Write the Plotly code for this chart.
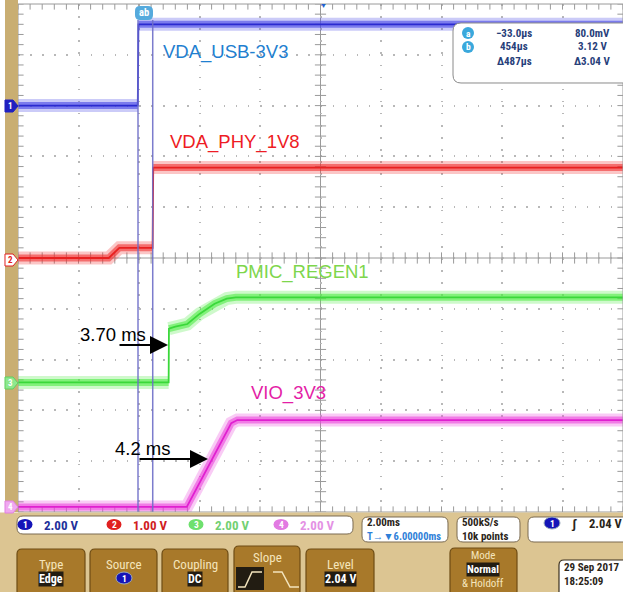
import plotly.graph_objects as go

# ---------------- data (time in ms relative to trigger, volts) ----------------
ch1_t = [-4.0, -0.04, -0.02, 16.0]
ch1_v = [0.0, 0.0, 3.2, 3.2]
ch2_t = [-4.0, -1.0, -0.65, 0.45, 0.47, 16.0]
ch2_v = [0.0, 0.0, 0.2, 0.2, 1.78, 1.78]
ch3_t = [-4.0, 0.98, 0.99, 1.2, 1.6, 2.0, 2.5, 2.9, 3.2, 16.0]
ch3_v = [0.1, 0.1, 2.22, 2.3, 2.4, 2.8, 3.2, 3.4, 3.45, 3.45]
ch4_t = [-4.0, 1.58, 3.05, 3.25, 16.0]
ch4_v = [0.0, 0.0, 3.3, 3.42, 3.42]

channel_names = ["VDA_USB-3V3", "VDA_PHY_1V8", "PMIC_REGEN1", "VIO_3V3"]
channel_scale = ["2.00 V", "1.00 V", "2.00 V", "2.00 V"]
cursor_t = [-0.033, 0.454]
readout_rows = [["a", "\u221233.0\u00b5s", "80.0mV"], ["b", "454\u00b5s", "3.12 V"], ["", "\u0394487\u00b5s", "\u03943.04 V"]]

# ---------------- geometry helpers (pixel -> paper) ----------------
W, H = 623, 592
L, T, PW, PH = 18, 4, 605, 508


def fx(px):
    return (px - L) / PW


def fy(py):
    return (T + PH - py) / PH


def rrect(x0, y0, x1, y1, r):
    p = [("M", x0 + r, y0), ("L", x1 - r, y0), ("Q", x1, y0, x1, y0 + r), ("L", x1, y1 - r),
         ("Q", x1, y1, x1 - r, y1), ("L", x0 + r, y1), ("Q", x0, y1, x0, y1 - r), ("L", x0, y0 + r),
         ("Q", x0, y0, x0 + r, y0)]
    s = ""
    for seg in p:
        s += seg[0]
        coords = seg[1:]
        for i in range(0, len(coords), 2):
            s += f"{fx(coords[i]):.5f},{fy(coords[i+1]):.5f} "
    return s + "Z"


COND = "Liberation Sans Narrow, Roboto Condensed, Liberation Sans, Arial, sans-serif"
ARIAL = "Liberation Sans, Arial, sans-serif"

fig = go.Figure()

# graticule ticks on centre axes and edges
tick_x = [-4 + 0.4 * k for k in range(51)]
tick_y = [-5 + 0.2 * k for k in range(51)]
tk = dict(size=8, line=dict(width=1, color="#9a9a9a"))
for yy in (0, 5, -5):
    fig.add_trace(go.Scatter(x=tick_x, y=[yy] * len(tick_x), mode="markers",
                             marker=dict(symbol="line-ns", **tk), hoverinfo="skip"))
for xx in (6, -4, 16):
    fig.add_trace(go.Scatter(x=[xx] * len(tick_y), y=tick_y, mode="markers",
                             marker=dict(symbol="line-ew", **tk), hoverinfo="skip"))


def add_signal(t, v, rgb, core, yaxis):
    bt, bv = [], []
    for i in range(len(t)):
        if i > 0 and abs(t[i] - t[i - 1]) < 0.03 and abs(v[i] - v[i - 1]) > 0.3:
            bt.append(None)
            bv.append(None)
        bt.append(t[i])
        bv.append(v[i])
    fig.add_trace(go.Scatter(x=bt, y=bv, mode="lines", yaxis=yaxis, hoverinfo="skip",
                             line=dict(color=f"rgba({rgb},0.28)", width=13)))
    fig.add_trace(go.Scatter(x=bt, y=bv, mode="lines", yaxis=yaxis, hoverinfo="skip",
                             line=dict(color=f"rgba({rgb},0.6)", width=7)))
    fig.add_trace(go.Scatter(x=t, y=v, mode="lines", yaxis=yaxis, hoverinfo="skip",
                             line=dict(color=core, width=1.8)))


add_signal(ch1_t, ch1_v, "70,70,230", "#2a2ad0", "y2")
add_signal(ch2_t, ch2_v, "240,50,50", "#e82020", "y")
add_signal(ch3_t, ch3_v, "80,235,70", "#3ad83a", "y3")
add_signal(ch4_t, ch4_v, "235,70,220", "#e020d0", "y4")

shapes = []
# centre axes
shapes.append(dict(type="line", xref="x", yref="y", x0=-4, x1=16, y0=0, y1=0,
                   line=dict(color="#9a9a9a", width=1), layer="below"))
shapes.append(dict(type="line", xref="x", yref="y", x0=6, x1=6, y0=-5, y1=5,
                   line=dict(color="#9a9a9a", width=1), layer="below"))
# cursors
for ct in cursor_t:
    shapes.append(dict(type="line", xref="x", yref="paper", x0=ct, x1=ct, y0=0, y1=fy(20),
                       line=dict(color="rgba(110,110,200,0.9)", width=1.5)))
# plot border
shapes.append(dict(type="rect", xref="paper", yref="paper", x0=0, x1=1, y0=0, y1=1,
                   line=dict(color="#9a9a9a", width=1)))
# readout box
shapes.append(dict(type="path", xref="paper", yref="paper", path=rrect(453, 23, 632, 83, 8),
                   fillcolor="white", line=dict(color="#8a8a8a", width=1)))
# cursor label box at top
shapes.append(dict(type="path", xref="paper", yref="paper", path=rrect(135, 6, 153, 20, 5),
                   fillcolor="#55aadd", line=dict(width=0)))
# left tan bar and bottom panel
shapes.append(dict(type="rect", xref="paper", yref="paper", x0=fx(5), x1=fx(18), y0=fy(512), y1=fy(0),
                   fillcolor="#c9ae72", line=dict(width=0)))
shapes.append(dict(type="rect", xref="paper", yref="paper", x0=fx(0), x1=fx(623), y0=fy(592), y1=fy(512.5),
                   fillcolor="#dcc592", line=dict(width=0)))
# info boxes
for (a, b, c, d) in [(17, 516, 353, 534), (362, 517, 448, 542), (457, 517, 520, 542), (528, 517, 632, 542)]:
    shapes.append(dict(type="path", xref="paper", yref="paper", path=rrect(a, b, c, d, 6),
                       fillcolor="white", line=dict(color="#7a6a50", width=1)))
# buttons
for (a, b, c, d) in [(17, 549, 85, 596), (90, 549, 157, 596), (162, 549, 228, 596), (234, 546, 300, 596),
                     (306, 549, 374, 596), (450, 548, 517, 596)]:
    shapes.append(dict(type="path", xref="paper", yref="paper", path=rrect(a, b, c, d, 5),
                       fillcolor="#a8792a", line=dict(color="#6e4c14", width=1.2)))
# date box
shapes.append(dict(type="path", xref="paper", yref="paper", path=rrect(559, 560, 640, 598, 5),
                   fillcolor="white", line=dict(color="#3a3020", width=1.2)))
# slope icons
shapes.append(dict(type="rect", xref="paper", yref="paper", x0=fx(236), x1=fx(264), y0=fy(590), y1=fy(567),
                   fillcolor="#221c12", line=dict(width=0)))
for pts, col in [([(238, 587), (245, 587), (252, 572), (262, 572)], "#f3e4bd"),
                 ([(273, 572), (282, 572), (290, 587), (299, 587)], "#f3e4bd")]:
    s = "M" + " L".join(f"{fx(x):.5f},{fy(y):.5f}" for x, y in pts)
    shapes.append(dict(type="path", xref="paper", yref="paper", path=s, line=dict(color=col, width=1.5)))
# channel pills on the info row
pill_cols = ["#1414b8", "#e02020", "#6ee06e", "#e27ae2"]
pill_x = [25, 114, 196, 281]
for cx, col in zip(pill_x, pill_cols):
    shapes.append(dict(type="circle", xref="paper", yref="paper", x0=fx(cx - 7.5), x1=fx(cx + 7.5),
                       y0=fy(530), y1=fy(519), fillcolor=col, line=dict(width=0)))
# source / trigger pills
for cx, cy in [(124, 578), (552, 523)]:
    shapes.append(dict(type="circle", xref="paper", yref="paper", x0=fx(cx - 8), x1=fx(cx + 8),
                       y0=fy(cy + 6), y1=fy(cy - 6), fillcolor="#1414b8", line=dict(color="#9ab", width=1)))
# left channel markers
mk = [(106, "#2020c0", "#2020c0"), (260, "white", "#e02020"), (383, "#8ee88e", "#60d060"), (507, "#f0a8f0", "#e080e0")]
for py, fill, edge in mk:
    s = (f"M{fx(5):.5f},{fy(py-6):.5f} L{fx(13):.5f},{fy(py-6):.5f} L{fx(18):.5f},{fy(py):.5f} "
         f"L{fx(13):.5f},{fy(py+6):.5f} L{fx(5):.5f},{fy(py+6):.5f} Z")
    shapes.append(dict(type="path", xref="paper", yref="paper", path=s, fillcolor=fill,
                       line=dict(color=edge, width=1)))
# readout circles
for cy in (33, 47):
    shapes.append(dict(type="circle", xref="paper", yref="paper", x0=fx(462), x1=fx(474), y0=fy(cy + 6),
                       y1=fy(cy - 6), fillcolor="#3aa8dc", line=dict(width=0)))

ann = []


def text(px, py, s, size, color, family=ARIAL, xanchor="center", bg=None, bold=False, yanchor="middle"):
    d = dict(x=fx(px), y=fy(py), xref="paper", yref="paper", text=(f"<b>{s}</b>" if bold else s),
             showarrow=False, xanchor=xanchor, yanchor=yanchor,
             font=dict(size=size, color=color, family=family))
    if bg:
        d["bgcolor"] = bg
        d["borderpad"] = 0
    ann.append(d)


# channel labels
text(225, 52, channel_names[0], 18.5, "#1f7fd0")
text(235, 142, channel_names[1], 18.5, "#ee1c24")
text(302, 272, channel_names[2], 18.5, "#7ed64c")
text(288, 393, channel_names[3], 18.5, "#e41ea6")
text(113, 334, "3.70 ms", 18.5, "black")
text(143, 448, "4.2 ms", 18.5, "black")
# arrows
for (tx, ty, dx) in [(168, 345, -50), (208, 459, -70)]:
    ann.append(dict(x=fx(tx), y=fy(ty), xref="paper", yref="paper", ax=dx, ay=0, text="",
                    showarrow=True, arrowhead=2, arrowsize=1.8, arrowwidth=2, arrowcolor="black"))
# cursor label and trigger marker
text(144, 13, "ab", 10.5, "white", family=COND, bold=True)
text(323, 0, "\u25bc", 7, "#2060d0", yanchor="top")
# readout
for i, row in enumerate(readout_rows):
    cy = 33 + 14 * i
    if row[0]:
        text(468, cy, row[0], 9.5, "white", family=COND, bold=True)
    text(514, cy, row[1], 11, "#27407a", family=COND, bold=True)
    text(592, cy, row[2], 11, "#27407a", family=COND, bold=True)
# left marker numbers
for (py, fill, edge), n, c in zip(mk, "1234", ["white", "#e02020", "white", "white"]):
    text(10, py, n, 9, c, family=COND, bold=True)
# info row
scale_cols = ["#22309a", "#d02020", "#72d072", "#e492e4"]
for i in range(4):
    text(pill_x[i], 524.5, str(i + 1), 9.5, "white", family=COND, bold=True)
    text(pill_x[i] + 17, 525, channel_scale[i], 13, scale_cols[i], family=COND, bold=True, xanchor="left")
text(365, 522.5, "2.00ms", 11, "#2a2418", family=COND, bold=True, xanchor="left")
text(365, 536, "T\u2192\u25bc6.00000ms", 10.5, "#2f7fd8", family=COND, bold=True, xanchor="left")
text(460, 522.5, "500kS/s", 11, "#2a2418", family=COND, bold=True, xanchor="left")
text(460, 536, "10k points", 11, "#2a2418", family=COND, bold=True, xanchor="left")
text(552, 523, "1", 9.5, "white", family=COND, bold=True)
text(574, 523, "\u0283", 13, "#2a2418", family=COND, bold=True)
text(605, 523, "2.04 V", 12.5, "#2a2418", family=COND, bold=True)
# buttons
cream = "#f5e5bc"
text(51, 564, "Type", 13, cream, family=COND)
text(51, 579, "Edge", 12, "white", family=COND, bg="#221c12", bold=True)
text(124, 564, "Source", 13, cream, family=COND)
text(124, 578, "1", 9.5, "white", family=COND, bold=True)
text(195, 564, "Coupling", 13, cream, family=COND)
text(195, 579, "DC", 12, "white", family=COND, bg="#221c12", bold=True)
text(267, 557, "Slope", 13, cream, family=COND)
text(340, 564, "Level", 13, cream, family=COND)
text(340, 579, "2.04 V", 12, "white", family=COND, bg="#221c12", bold=True)
text(483, 555, "Mode", 11, cream, family=COND)
text(483, 569, "Normal", 11, "white", family=COND, bg="#221c12", bold=True)
text(483, 583, "&amp; Holdoff", 11, cream, family=COND)
text(562, 567, "29 Sep 2017", 11, "#2a2418", family=COND, bold=True, xanchor="left")
text(562, 581, "18:25:09", 11, "#2a2418", family=COND, bold=True, xanchor="left")

grid = dict(showgrid=True, gridcolor="#b8b8b8", gridwidth=1.5, griddash="1.5px,10.6px",
            zeroline=False, showticklabels=False, ticks="", showline=False, fixedrange=True)
fig.update_layout(
    width=W, height=H, margin=dict(l=L, r=W - L - PW, t=T, b=H - T - PH),
    paper_bgcolor="white", plot_bgcolor="white", showlegend=False, hovermode=False,
    xaxis=dict(range=[-4, 16], dtick=2, tick0=0, **grid),
    yaxis=dict(range=[-5, 5], dtick=1, tick0=0, **grid),
    yaxis2=dict(range=[-16, 4], overlaying="y", visible=False, fixedrange=True),
    yaxis3=dict(range=[-5, 15], overlaying="y", visible=False, fixedrange=True),
    yaxis4=dict(range=[-0.2, 19.8], overlaying="y", visible=False, fixedrange=True),
    shapes=shapes, annotations=ann,
)
fig.write_html("out.html")
